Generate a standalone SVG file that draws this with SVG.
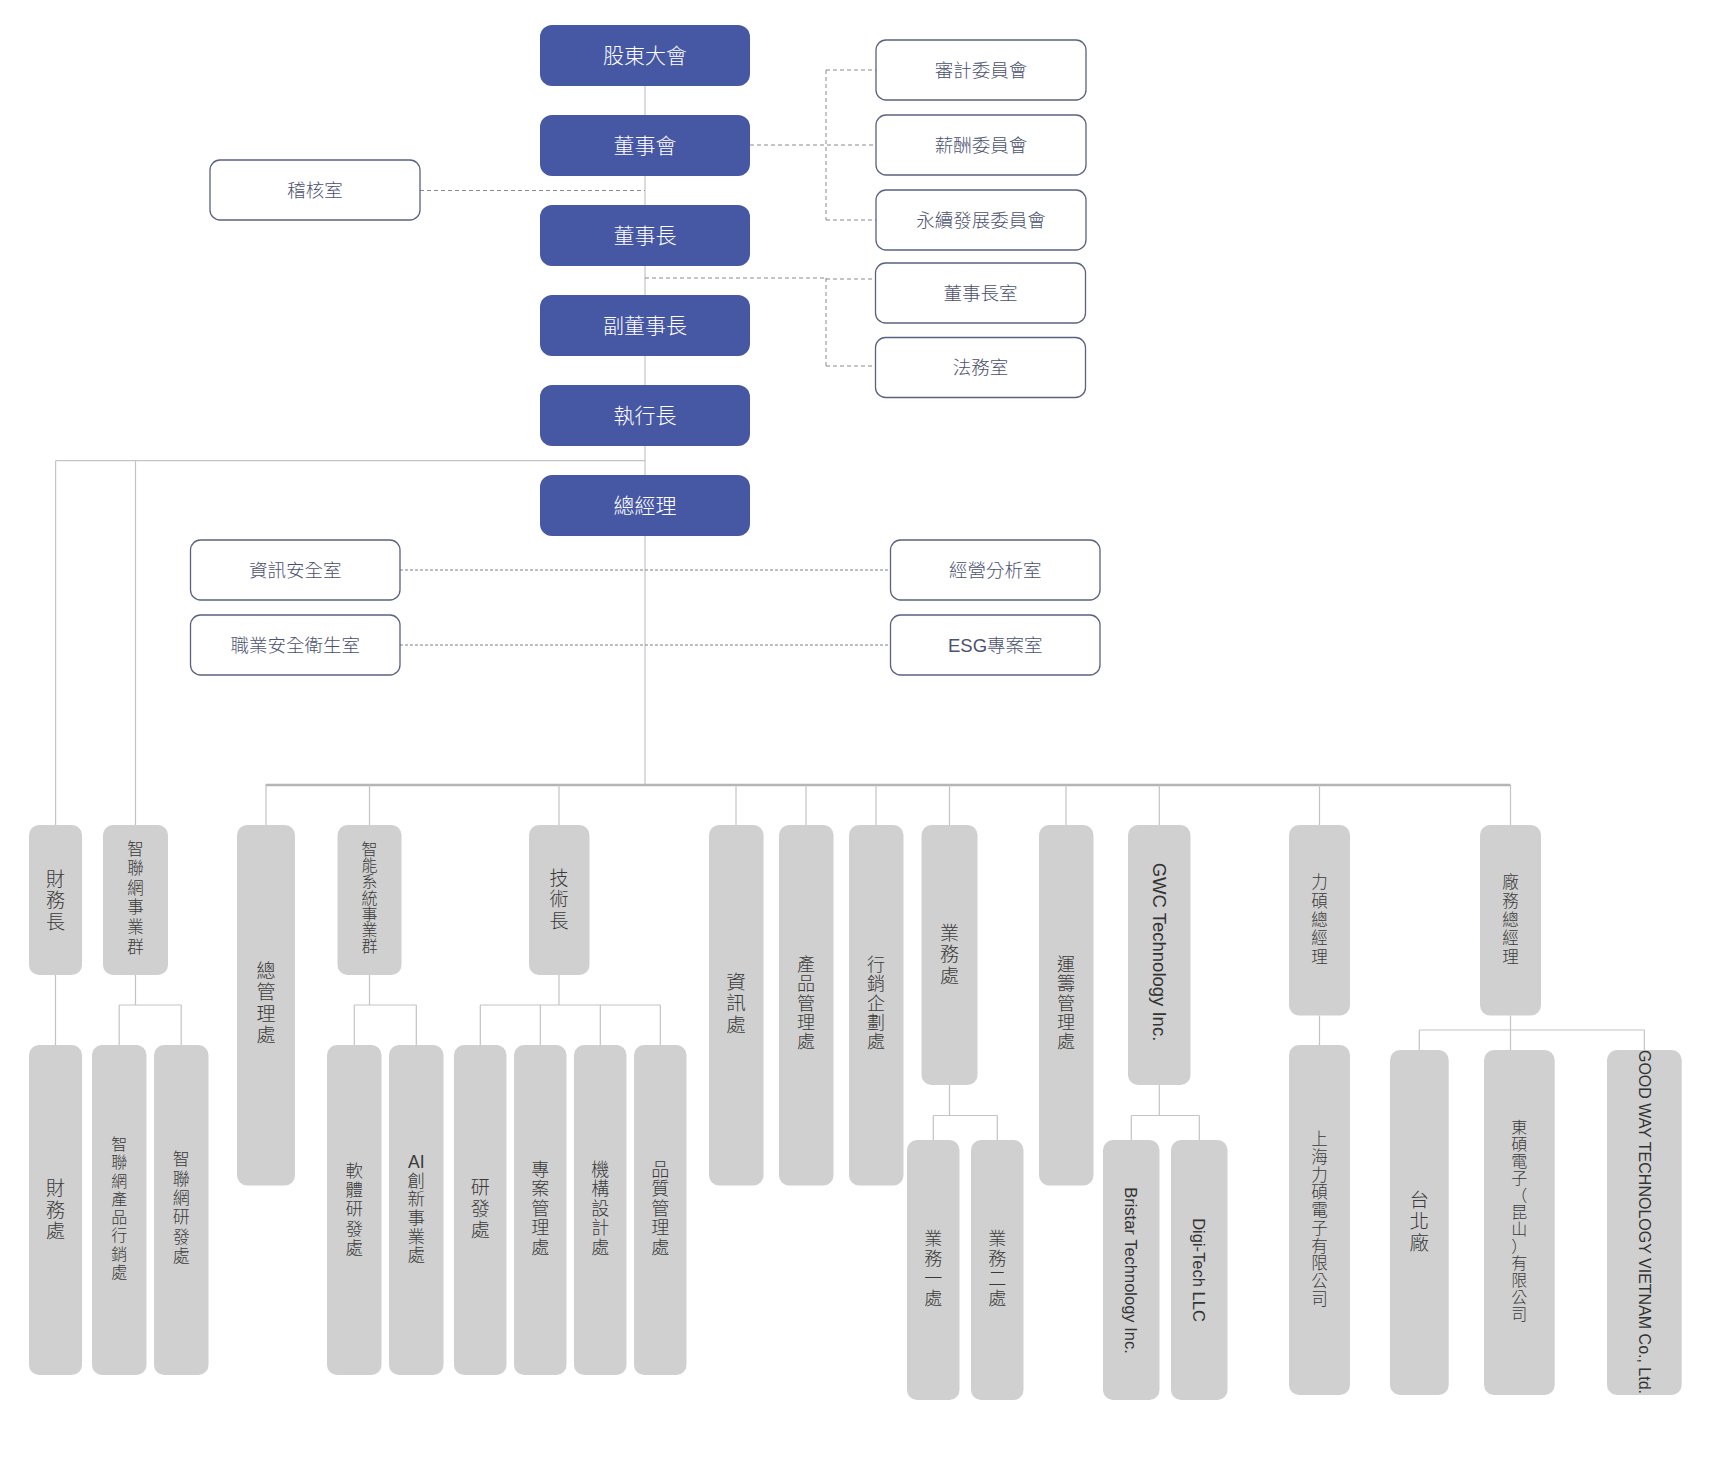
<svg xmlns="http://www.w3.org/2000/svg" width="1728" height="1467" viewBox="0 0 1728 1467">
<style>
text{font-family:"Liberation Sans","Noto Sans CJK TC",sans-serif;text-anchor:middle;dominant-baseline:central}
.blue{fill:#4657a3}
.bt{fill:#ffffff;font-size:21px;font-weight:300}
.wbox{fill:#ffffff;stroke:#5b6182;stroke-width:1.3}
.wt{fill:#4b5170;font-size:18.5px;font-weight:300}
.gbox{fill:#d0d0d0}
.gt{fill:#3a3a3a;font-weight:300}
.lat{fill:#333333;font-weight:400}
.ln{stroke:#c4c4c4;stroke-width:1.2;fill:none}
.bus{stroke:#b5b5b5;stroke-width:2.5;fill:none}
.dash{stroke:#8a8a8a;stroke-width:1;stroke-dasharray:4 3;fill:none}
.dot{stroke:#7d8090;stroke-width:1;stroke-dasharray:3 2;fill:none}
</style>
<rect width="1728" height="1467" fill="#ffffff"/>
<g id="connectors">
<path class="ln" d="M645 86V785"/>
<path class="ln" d="M55.6 460.7H645M55.6 460.7V825M135.5 460.7V825"/>
<path class="bus" d="M265.6 785H1510.5"/>
<path class="ln" d="M266 785V825M369.5 785V825M559 785V825M736 785V825M806 785V825M876 785V825M949.5 785V825M1066 785V825M1159.3 785V825M1319.5 785V825M1510.5 785V825"/>
<path class="ln" d="M55.5 975V1045"/>
<path class="ln" d="M135.5 975V1005M119.2 1005H181.2M119.2 1005V1045M181.2 1005V1045"/>
<path class="ln" d="M369.5 975V1005M354.3 1005H416.3M354.3 1005V1045M416.3 1005V1045"/>
<path class="ln" d="M559 975V1005M480.3 1005H660.3M480.3 1005V1045M540.3 1005V1045M600.3 1005V1045M660.3 1005V1045"/>
<path class="ln" d="M949.5 1085V1115.5M933.3 1115.5H997.3M933.3 1115.5V1140M997.3 1115.5V1140"/>
<path class="ln" d="M1159.3 1085V1115.5M1131.3 1115.5H1199.3M1131.3 1115.5V1140M1199.3 1115.5V1140"/>
<path class="ln" d="M1319.5 1015.5V1045"/>
<path class="ln" d="M1510.5 1015.5V1050M1419.3 1030H1644.3M1419.3 1030V1050M1644.3 1030V1050"/>
<path class="dash" d="M420 190.5H645"/>
<path class="dash" d="M750 145H876M826 70V220M826 70H876M826 220H876"/>
<path class="dash" d="M645 278H826M826 278V366M826 279H875.5M826 366H875.5"/>
<path class="dot" d="M400 570H890.5M400 645H890.5"/>
</g>
<g id="n-gudong"><rect class="blue" x="540" y="25" width="210" height="61" rx="12"/><text class="bt" x="645" y="55.5">股東大會</text></g>
<g id="n-dongshihui"><rect class="blue" x="540" y="115" width="210" height="61" rx="12"/><text class="bt" x="645" y="145.5">董事會</text></g>
<g id="n-dongshizhang"><rect class="blue" x="540" y="205" width="210" height="61" rx="12"/><text class="bt" x="645" y="235.5">董事長</text></g>
<g id="n-fudongshizhang"><rect class="blue" x="540" y="295" width="210" height="61" rx="12"/><text class="bt" x="645" y="325.5">副董事長</text></g>
<g id="n-ceo"><rect class="blue" x="540" y="385" width="210" height="61" rx="12"/><text class="bt" x="645" y="415.5">執行長</text></g>
<g id="n-gm"><rect class="blue" x="540" y="475" width="210" height="61" rx="12"/><text class="bt" x="645" y="505.5">總經理</text></g>
<g id="n-audit-office"><rect class="wbox" x="210" y="160" width="210" height="60" rx="10"/><text class="wt" x="315" y="190">稽核室</text></g>
<g id="n-audit-committee"><rect class="wbox" x="876" y="40" width="210" height="60" rx="10"/><text class="wt" x="981" y="70">審計委員會</text></g>
<g id="n-pay-committee"><rect class="wbox" x="876" y="115" width="210" height="60" rx="10"/><text class="wt" x="981" y="145">薪酬委員會</text></g>
<g id="n-esg-committee"><rect class="wbox" x="876" y="190" width="210" height="60" rx="10"/><text class="wt" x="981" y="220">永續發展委員會</text></g>
<g id="n-chair-office"><rect class="wbox" x="875.5" y="263" width="210" height="60" rx="10"/><text class="wt" x="980.5" y="293">董事長室</text></g>
<g id="n-legal"><rect class="wbox" x="875.5" y="337.5" width="210" height="60" rx="10"/><text class="wt" x="980.5" y="367.5">法務室</text></g>
<g id="n-infosec"><rect class="wbox" x="190.5" y="540" width="209.5" height="60" rx="10"/><text class="wt" x="295.3" y="570">資訊安全室</text></g>
<g id="n-ohs"><rect class="wbox" x="190.5" y="615" width="209.5" height="60" rx="10"/><text class="wt" x="295.3" y="645">職業安全衛生室</text></g>
<g id="n-analysis"><rect class="wbox" x="890.5" y="540" width="209.5" height="60" rx="10"/><text class="wt" x="995.3" y="570">經營分析室</text></g>
<g id="n-esg"><rect class="wbox" x="890.5" y="615" width="209.5" height="60" rx="10"/><text class="wt" x="995.3" y="645">ESG專案室</text></g>

<g id="n-cfo"><rect class="gbox" x="29" y="825" width="53" height="150" rx="10"/><text class="gt" font-size="19"><tspan x="55.5" y="878.5">財</tspan><tspan x="55.5" y="900">務</tspan><tspan x="55.5" y="921.5">長</tspan></text></g>
<g id="n-iot-bg"><rect class="gbox" x="103" y="825" width="65" height="150" rx="10"/><text class="gt" font-size="16.5"><tspan x="135.5" y="848.5">智</tspan><tspan x="135.5" y="868.1">聯</tspan><tspan x="135.5" y="887.7">網</tspan><tspan x="135.5" y="907.3">事</tspan><tspan x="135.5" y="926.9">業</tspan><tspan x="135.5" y="946.5">群</tspan></text></g>
<g id="n-admin"><rect class="gbox" x="237" y="825" width="58" height="360.5" rx="10"/><text class="gt" font-size="19"><tspan x="266" y="970.75">總</tspan><tspan x="266" y="992.25">管</tspan><tspan x="266" y="1013.75">理</tspan><tspan x="266" y="1035.25">處</tspan></text></g>
<g id="n-smart-bg"><rect class="gbox" x="337.5" y="825" width="64" height="150" rx="10"/><text class="gt" font-size="16"><tspan x="369.5" y="848.6">智</tspan><tspan x="369.5" y="864.9">能</tspan><tspan x="369.5" y="881.2">系</tspan><tspan x="369.5" y="897.5">統</tspan><tspan x="369.5" y="913.8">事</tspan><tspan x="369.5" y="930.1">業</tspan><tspan x="369.5" y="946.4">群</tspan></text></g>
<g id="n-cto"><rect class="gbox" x="529" y="825" width="60.5" height="150" rx="10"/><text class="gt" font-size="19"><tspan x="559" y="877.5">技</tspan><tspan x="559" y="899">術</tspan><tspan x="559" y="920.5">長</tspan></text></g>
<g id="n-it"><rect class="gbox" x="709" y="825" width="54.5" height="360.5" rx="10"/><text class="gt" font-size="19.5"><tspan x="736" y="981.5">資</tspan><tspan x="736" y="1003">訊</tspan><tspan x="736" y="1024.5">處</tspan></text></g>
<g id="n-pm"><rect class="gbox" x="779" y="825" width="54.5" height="360.5" rx="10"/><text class="gt" font-size="18"><tspan x="806" y="965">產</tspan><tspan x="806" y="984.3">品</tspan><tspan x="806" y="1003.6">管</tspan><tspan x="806" y="1022.9">理</tspan><tspan x="806" y="1042.2">處</tspan></text></g>
<g id="n-mkt"><rect class="gbox" x="849" y="825" width="54.5" height="360.5" rx="10"/><text class="gt" font-size="18"><tspan x="876" y="965">行</tspan><tspan x="876" y="984.3">銷</tspan><tspan x="876" y="1003.6">企</tspan><tspan x="876" y="1022.9">劃</tspan><tspan x="876" y="1042.2">處</tspan></text></g>
<g id="n-sales"><rect class="gbox" x="921.5" y="825" width="56" height="260" rx="10"/><text class="gt" font-size="19"><tspan x="949.5" y="932.5">業</tspan><tspan x="949.5" y="954">務</tspan><tspan x="949.5" y="975.5">處</tspan></text></g>
<g id="n-logistics"><rect class="gbox" x="1039" y="825" width="54.5" height="360.5" rx="10"/><text class="gt" font-size="18"><tspan x="1066" y="965">運</tspan><tspan x="1066" y="984.3">籌</tspan><tspan x="1066" y="1003.6">管</tspan><tspan x="1066" y="1022.9">理</tspan><tspan x="1066" y="1042.2">處</tspan></text></g>
<g id="n-gwc"><rect class="gbox" x="1128" y="825" width="62.5" height="260" rx="10"/><text class="lat" font-size="18.5" transform="translate(1159.3 952) rotate(90)" x="0" y="0">GWC Technology Inc.</text></g>
<g id="n-lishuo-gm"><rect class="gbox" x="1289" y="825" width="61" height="190.5" rx="10"/><text class="gt" font-size="16.5"><tspan x="1319.5" y="882.1">力</tspan><tspan x="1319.5" y="900.8">碩</tspan><tspan x="1319.5" y="919.5">總</tspan><tspan x="1319.5" y="938.2">經</tspan><tspan x="1319.5" y="956.9">理</tspan></text></g>
<g id="n-plant-gm"><rect class="gbox" x="1480" y="825" width="61" height="190.5" rx="10"/><text class="gt" font-size="16.5"><tspan x="1510.5" y="882.1">廠</tspan><tspan x="1510.5" y="900.8">務</tspan><tspan x="1510.5" y="919.5">總</tspan><tspan x="1510.5" y="938.2">經</tspan><tspan x="1510.5" y="956.9">理</tspan></text></g>

<g id="n-finance"><rect class="gbox" x="29" y="1045" width="53" height="330" rx="10"/><text class="gt" font-size="19"><tspan x="55.5" y="1188">財</tspan><tspan x="55.5" y="1209.5">務</tspan><tspan x="55.5" y="1231">處</tspan></text></g>
<g id="n-iot-mkt"><rect class="gbox" x="92" y="1045" width="54.5" height="330" rx="10"/><text class="gt" font-size="16"><tspan x="119.2" y="1143.95">智</tspan><tspan x="119.2" y="1162.25">聯</tspan><tspan x="119.2" y="1180.55">網</tspan><tspan x="119.2" y="1198.85">產</tspan><tspan x="119.2" y="1217.15">品</tspan><tspan x="119.2" y="1235.45">行</tspan><tspan x="119.2" y="1253.75">銷</tspan><tspan x="119.2" y="1272.05">處</tspan></text></g>
<g id="n-iot-rd"><rect class="gbox" x="154" y="1045" width="54.5" height="330" rx="10"/><text class="gt" font-size="17"><tspan x="181.2" y="1159.45">智</tspan><tspan x="181.2" y="1178.75">聯</tspan><tspan x="181.2" y="1198.05">網</tspan><tspan x="181.2" y="1217.35">研</tspan><tspan x="181.2" y="1236.65">發</tspan><tspan x="181.2" y="1255.95">處</tspan></text></g>
<g id="n-sw-rd"><rect class="gbox" x="327" y="1045" width="54.5" height="330" rx="10"/><text class="gt" font-size="17.5"><tspan x="354.3" y="1170.7">軟</tspan><tspan x="354.3" y="1190">體</tspan><tspan x="354.3" y="1209.3">研</tspan><tspan x="354.3" y="1228.6">發</tspan><tspan x="354.3" y="1247.9">處</tspan></text></g>
<g id="n-ai"><rect class="gbox" x="389" y="1045" width="54.5" height="330" rx="10"/><text class="gt" font-size="17.5"><tspan x="416.3" y="1161.95">AI</tspan><tspan x="416.3" y="1180.65">創</tspan><tspan x="416.3" y="1199.35">新</tspan><tspan x="416.3" y="1218.05">事</tspan><tspan x="416.3" y="1236.75">業</tspan><tspan x="416.3" y="1255.45">處</tspan></text></g>
<g id="n-rd"><rect class="gbox" x="454" y="1045" width="52.5" height="330" rx="10"/><text class="gt" font-size="19"><tspan x="480.3" y="1187">研</tspan><tspan x="480.3" y="1208.5">發</tspan><tspan x="480.3" y="1230">處</tspan></text></g>
<g id="n-project"><rect class="gbox" x="514" y="1045" width="52.5" height="330" rx="10"/><text class="gt" font-size="18"><tspan x="540.3" y="1169.9">專</tspan><tspan x="540.3" y="1189.3">案</tspan><tspan x="540.3" y="1208.7">管</tspan><tspan x="540.3" y="1228.1">理</tspan><tspan x="540.3" y="1247.5">處</tspan></text></g>
<g id="n-mech"><rect class="gbox" x="574" y="1045" width="52.5" height="330" rx="10"/><text class="gt" font-size="18"><tspan x="600.3" y="1169.9">機</tspan><tspan x="600.3" y="1189.3">構</tspan><tspan x="600.3" y="1208.7">設</tspan><tspan x="600.3" y="1228.1">計</tspan><tspan x="600.3" y="1247.5">處</tspan></text></g>
<g id="n-qa"><rect class="gbox" x="634" y="1045" width="52.5" height="330" rx="10"/><text class="gt" font-size="18"><tspan x="660.3" y="1169.9">品</tspan><tspan x="660.3" y="1189.3">質</tspan><tspan x="660.3" y="1208.7">管</tspan><tspan x="660.3" y="1228.1">理</tspan><tspan x="660.3" y="1247.5">處</tspan></text></g>
<g id="n-sales1"><rect class="gbox" x="907" y="1140" width="52.5" height="260" rx="10"/><text class="gt" font-size="18"><tspan x="933.3" y="1239.45">業</tspan><tspan x="933.3" y="1259.15">務</tspan><tspan x="933.3" y="1278.85">一</tspan><tspan x="933.3" y="1298.55">處</tspan></text></g>
<g id="n-sales2"><rect class="gbox" x="971" y="1140" width="52.5" height="260" rx="10"/><text class="gt" font-size="18"><tspan x="997.3" y="1239.45">業</tspan><tspan x="997.3" y="1259.15">務</tspan><tspan x="997.3" y="1278.85">二</tspan><tspan x="997.3" y="1298.55">處</tspan></text></g>
<g id="n-bristar"><rect class="gbox" x="1103" y="1140" width="56.5" height="260" rx="10"/><text class="lat" font-size="16.5" transform="translate(1131.3 1270.5) rotate(90)" x="0" y="0">Bristar Technology Inc.</text></g>
<g id="n-digitech"><rect class="gbox" x="1171" y="1140" width="56.5" height="260" rx="10"/><text class="lat" font-size="16.5" font-weight="700" transform="translate(1199.3 1270) rotate(90)" x="0" y="0">Digi-Tech LLC</text></g>
<g id="n-shanghai"><rect class="gbox" x="1289" y="1045" width="61" height="350" rx="10"/><text class="gt" font-size="16.5"><tspan x="1319.5" y="1139.35">上</tspan><tspan x="1319.5" y="1157.05">海</tspan><tspan x="1319.5" y="1174.75">力</tspan><tspan x="1319.5" y="1192.45">碩</tspan><tspan x="1319.5" y="1210.15">電</tspan><tspan x="1319.5" y="1227.85">子</tspan><tspan x="1319.5" y="1245.55">有</tspan><tspan x="1319.5" y="1263.25">限</tspan><tspan x="1319.5" y="1280.95">公</tspan><tspan x="1319.5" y="1298.65">司</tspan></text></g>
<g id="n-taipei"><rect class="gbox" x="1390" y="1050" width="58.7" height="345" rx="10"/><text class="gt" font-size="19.5"><tspan x="1419.3" y="1199.5">台</tspan><tspan x="1419.3" y="1221">北</tspan><tspan x="1419.3" y="1242.5">廠</tspan></text></g>
<g id="n-kunshan"><rect class="gbox" x="1484" y="1050" width="70.7" height="345" rx="10"/><text class="gt" font-size="16"><tspan x="1519.3" y="1127.1">東</tspan><tspan x="1519.3" y="1144.1">碩</tspan><tspan x="1519.3" y="1161.1">電</tspan><tspan x="1519.3" y="1178.1">子</tspan><tspan x="1519.3" y="1195.1">（</tspan><tspan x="1519.3" y="1212.1">昆</tspan><tspan x="1519.3" y="1229.1">山</tspan><tspan x="1519.3" y="1246.1">）</tspan><tspan x="1519.3" y="1263.1">有</tspan><tspan x="1519.3" y="1280.1">限</tspan><tspan x="1519.3" y="1297.1">公</tspan><tspan x="1519.3" y="1314.1">司</tspan></text></g>
<g id="n-vietnam"><rect class="gbox" x="1607" y="1050" width="74.7" height="345" rx="10"/><text class="lat" font-size="16" transform="translate(1644.3 1222) rotate(90)" x="0" y="0">GOOD WAY TECHNOLOGY VIETNAM Co., Ltd.</text></g>
</svg>
